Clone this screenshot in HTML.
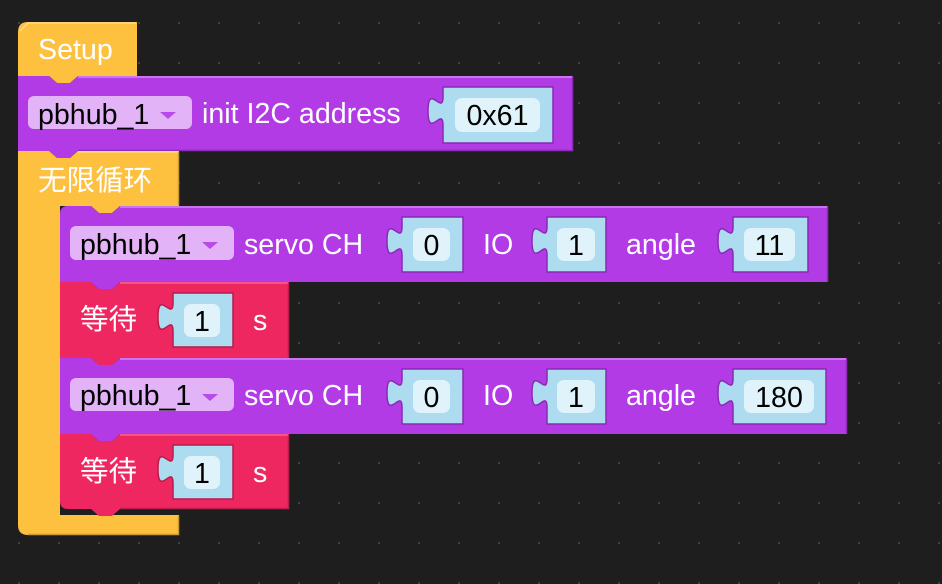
<!DOCTYPE html>
<html><head><meta charset="utf-8"><style>
html,body{margin:0;padding:0;background:#1e1e1e;}
svg{display:block;}
text{font-family:"Liberation Sans","Noto Sans CJK SC",sans-serif;font-size:28.6px;}
.w{fill:#ffffff;}
.b{fill:#000000;}
.cjk{font-family:"Noto Sans CJK SC","Liberation Sans",sans-serif;font-size:28.5px;}
</style></head><body>
<svg width="942" height="584" viewBox="0 0 942 584" xmlns="http://www.w3.org/2000/svg">
<defs>
<pattern id="dots" x="0" y="0" width="40" height="40" patternUnits="userSpaceOnUse">
<rect x="18.3" y="22.3" width="1.5" height="1.5" fill="#5c5c5c"/>
</pattern>
</defs>
<rect width="942" height="584" fill="#1e1e1e"/>
<rect width="942" height="584" fill="url(#dots)"/>

<!-- Setup hat -->
<path d="M18,32 Q18,22 28,22 H137 V76 H78 L70,83 H57 L49,76 H18 Z" fill="#fec03f"/>
<polyline points="20,31 28,23 136,23" fill="none" stroke="#ffd987" stroke-width="1.5"/>
<text x="38" y="59" class="w">Setup</text>

<!-- init block -->
<path d="M18,76 H49 L57,83 H70 L78,76 H573 V151 H78 L70,158 H57 L49,151 H18 Z" fill="#b33be6"/>
<polyline points="78,77 572,77" fill="none" stroke="#c876ef" stroke-width="2"/>
<polyline points="572.5,77 572.5,150.5 78,150.5" fill="none" stroke="#8d2cb8" stroke-width="1.5"/>
<rect x="28" y="96" width="164" height="33" rx="6" fill="#e2b3f7"/>
<text x="38" y="124" class="b">pbhub_1</text>
<polygon points="160,112 176,112 168,119" fill="#b84ae8"/>
<text x="202" y="123" class="w">init I2C address</text>
<path d="M443,87 v10 c0,19 -15,-15 -15,14 s15,-5 15,14 V143 H553 V87 Z" fill="#addcf0" stroke="#8a2ab4" stroke-width="1.5"/>
<rect x="455" y="98" width="85" height="34" rx="7" fill="#e0f3fa"/>
<text x="497.5" y="125" class="b" text-anchor="middle">0x61</text>

<!-- forever loop -->
<path d="M18,151 H49 L57,158 H70 L78,151 H179 V206 H120 L112,213 H99 L91,206 H60 V515 H179 V535 H28 Q18,535 18,525 Z" fill="#fec03f"/>
<polyline points="78,152 178,152" fill="none" stroke="#ffd987" stroke-width="1.5"/>
<polyline points="178.5,152 178.5,205" fill="none" stroke="#cc9a33" stroke-width="1.5"/>
<polyline points="178.5,516 178.5,534.5 28,534.5" fill="none" stroke="#cc9a33" stroke-width="1.5"/>
<text x="38" y="190" class="w cjk">无限循环</text>

<!-- servo 1 -->
<path d="M60,214 Q60,206 68,206 H91 L99,213 H112 L120,206 H828 V282 H120 L112,289 H99 L91,282 H60 Z" fill="#b33be6"/>
<polyline points="120,207 827,207" fill="none" stroke="#c876ef" stroke-width="2"/>
<polyline points="827.5,207 827.5,281.5" fill="none" stroke="#8d2cb8" stroke-width="1.5"/>
<rect x="70" y="226" width="164" height="34" rx="6" fill="#e2b3f7"/>
<text x="80" y="254" class="b">pbhub_1</text>
<polygon points="202,242 218,242 210,249" fill="#b84ae8"/>
<text x="244" y="254" class="w">servo CH</text>
<path d="M402,217 v10 c0,19 -15,-15 -15,14 s15,-5 15,14 V272 H463 V217 Z" fill="#addcf0" stroke="#8a2ab4" stroke-width="1.5"/>
<rect x="413" y="228" width="37" height="33" rx="7" fill="#e0f3fa"/>
<text x="431.5" y="255" class="b" text-anchor="middle">0</text>
<text x="483" y="254" class="w">IO</text>
<path d="M547,217 v10 c0,19 -15,-15 -15,14 s15,-5 15,14 V272 H606 V217 Z" fill="#addcf0" stroke="#8a2ab4" stroke-width="1.5"/>
<rect x="557" y="228" width="38" height="33" rx="7" fill="#e0f3fa"/>
<text x="576" y="255" class="b" text-anchor="middle">1</text>
<text x="626" y="254" class="w">angle</text>
<path d="M733,217 v10 c0,19 -15,-15 -15,14 s15,-5 15,14 V272 H808 V217 Z" fill="#addcf0" stroke="#8a2ab4" stroke-width="1.5"/>
<rect x="744" y="228" width="51" height="33" rx="7" fill="#e0f3fa"/>
<text x="769.5" y="255" class="b" text-anchor="middle">11</text>

<!-- wait 1 -->
<path d="M60,282 H91 L99,289 H112 L120,282 H289 V358 H120 L112,365 H99 L91,358 H60 Z" fill="#ee2760"/>
<polyline points="120,283 288,283" fill="none" stroke="#f5678f" stroke-width="1.5"/>
<polyline points="288.5,283 288.5,357.5" fill="none" stroke="#bd1f4c" stroke-width="1.5"/>
<text x="80" y="329" class="w cjk">等待</text>
<path d="M173,293 v10 c0,19 -15,-15 -15,14 s15,-5 15,14 V347 H233 V293 Z" fill="#addcf0" stroke="#b51d4a" stroke-width="1.5"/>
<rect x="184" y="304" width="36" height="33" rx="7" fill="#e0f3fa"/>
<text x="202" y="331" class="b" text-anchor="middle">1</text>
<text x="253" y="330" class="w">s</text>

<!-- servo 2 -->
<path d="M60,358 H91 L99,365 H112 L120,358 H847 V434 H120 L112,441 H99 L91,434 H60 Z" fill="#b33be6"/>
<polyline points="120,359 846,359" fill="none" stroke="#c876ef" stroke-width="2"/>
<polyline points="846.5,359 846.5,433.5" fill="none" stroke="#8d2cb8" stroke-width="1.5"/>
<rect x="70" y="378" width="164" height="33" rx="6" fill="#e2b3f7"/>
<text x="80" y="405" class="b">pbhub_1</text>
<polygon points="202,394 218,394 210,401" fill="#b84ae8"/>
<text x="244" y="405" class="w">servo CH</text>
<path d="M402,369 v10 c0,19 -15,-15 -15,14 s15,-5 15,14 V424 H463 V369 Z" fill="#addcf0" stroke="#8a2ab4" stroke-width="1.5"/>
<rect x="413" y="380" width="37" height="33" rx="7" fill="#e0f3fa"/>
<text x="431.5" y="407" class="b" text-anchor="middle">0</text>
<text x="483" y="405" class="w">IO</text>
<path d="M547,369 v10 c0,19 -15,-15 -15,14 s15,-5 15,14 V424 H606 V369 Z" fill="#addcf0" stroke="#8a2ab4" stroke-width="1.5"/>
<rect x="557" y="380" width="38" height="33" rx="7" fill="#e0f3fa"/>
<text x="576" y="407" class="b" text-anchor="middle">1</text>
<text x="626" y="405" class="w">angle</text>
<path d="M733,369 v10 c0,19 -15,-15 -15,14 s15,-5 15,14 V424 H826 V369 Z" fill="#addcf0" stroke="#8a2ab4" stroke-width="1.5"/>
<rect x="744" y="380" width="70" height="33" rx="7" fill="#e0f3fa"/>
<text x="779" y="407" class="b" text-anchor="middle">180</text>

<!-- wait 2 -->
<path d="M60,434 H91 L99,441 H112 L120,434 H289 V509 H120 L112,516 H99 L91,509 H68 Q60,509 60,501 Z" fill="#ee2760"/>
<polyline points="120,435 288,435" fill="none" stroke="#f5678f" stroke-width="1.5"/>
<polyline points="288.5,435 288.5,508.5 120,508.5" fill="none" stroke="#bd1f4c" stroke-width="1.5"/>
<text x="80" y="481" class="w cjk">等待</text>
<path d="M173,445 v10 c0,19 -15,-15 -15,14 s15,-5 15,14 V499 H233 V445 Z" fill="#addcf0" stroke="#b51d4a" stroke-width="1.5"/>
<rect x="184" y="456" width="36" height="33" rx="7" fill="#e0f3fa"/>
<text x="202" y="483" class="b" text-anchor="middle">1</text>
<text x="253" y="482" class="w">s</text>
</svg>
</body></html>
